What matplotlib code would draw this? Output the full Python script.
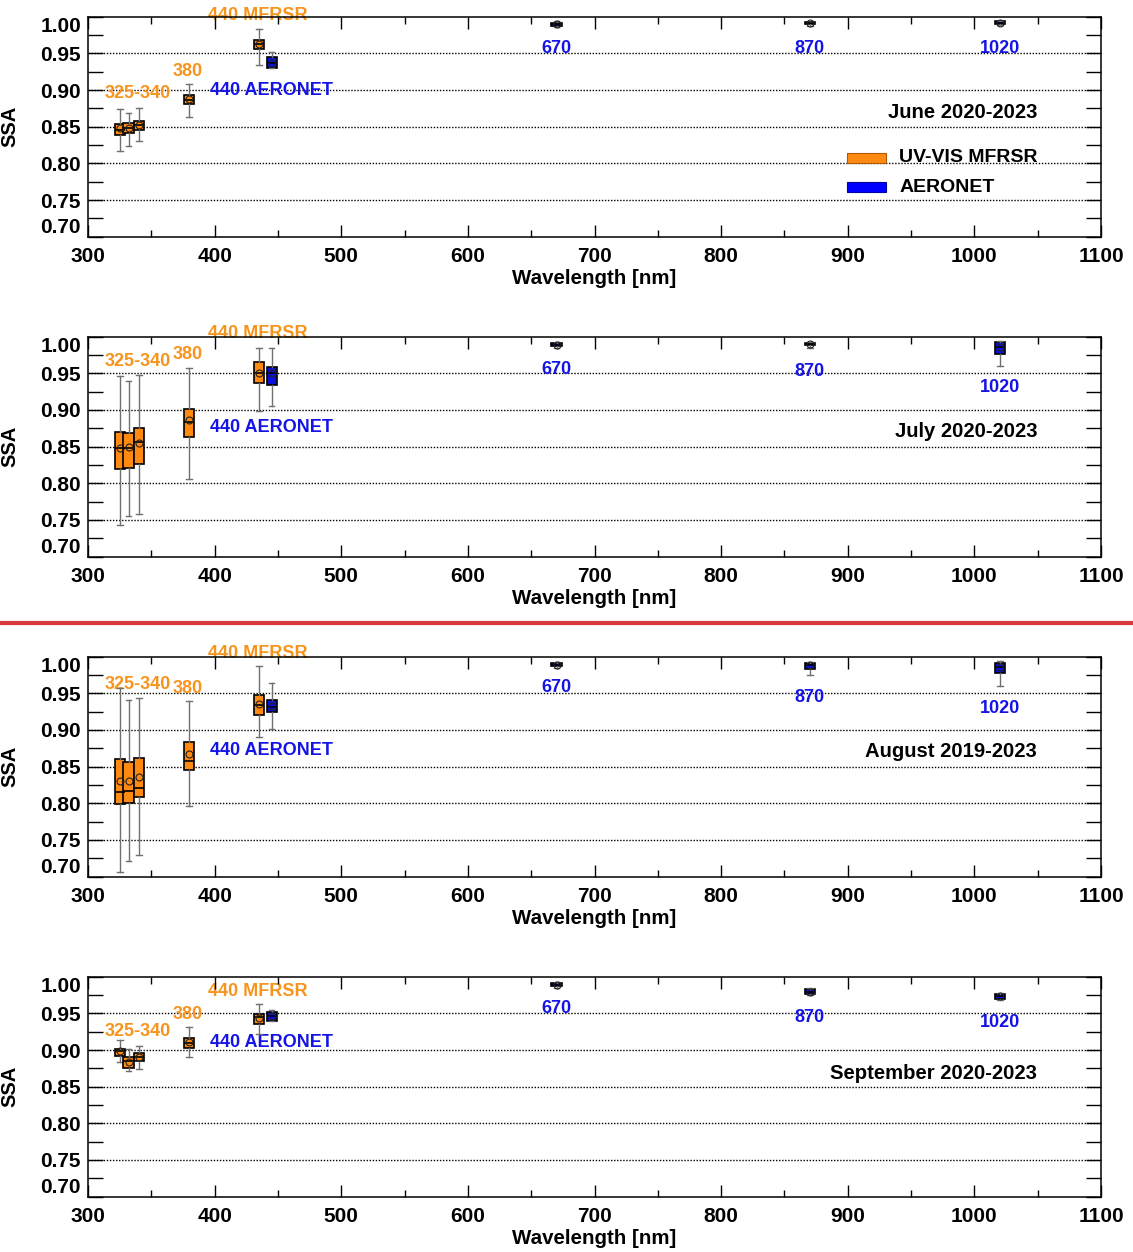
import numpy as np
import matplotlib
matplotlib.use("Agg")
import matplotlib.pyplot as plt
from matplotlib.lines import Line2D
from matplotlib.patches import Rectangle
from matplotlib.ticker import MultipleLocator

plt.rcParams["font.family"] = ["Liberation Sans", "DejaVu Sans"]
plt.rcParams["font.weight"] = "bold"

ORANGE = "#ff8a12"
ORANGE_TXT = "#f7941d"
BLUE = "#0a10d8"
BLUE_TXT = "#1414e6"

mfrsr_wl = [325, 332, 340, 380, 435]
aeronet_wl = [445, 670, 870, 1020]

# rows: whisker low, q1, median, q3, whisker high, mean
june_mfrsr = [
    [0.817, 0.839, 0.845, 0.854, 0.874, 0.848],
    [0.824, 0.841, 0.848, 0.855, 0.869, 0.848],
    [0.830, 0.846, 0.852, 0.858, 0.876, 0.853],
    [0.863, 0.881, 0.887, 0.893, 0.908, 0.888],
    [0.934, 0.956, 0.963, 0.969, 0.984, 0.963],
]
june_aeronet = [
    [0.930, 0.930, 0.937, 0.945, 0.952, 0.937],
    [0.986, 0.988, 0.990, 0.992, 0.994, 0.990],
    [0.988, 0.990, 0.992, 0.993, 0.993, 0.991],
    [0.989, 0.990, 0.992, 0.994, 0.994, 0.991],
]
july_mfrsr = [
    [0.743, 0.819, 0.848, 0.870, 0.946, 0.848],
    [0.755, 0.821, 0.848, 0.868, 0.940, 0.849],
    [0.758, 0.826, 0.857, 0.875, 0.948, 0.855],
    [0.806, 0.863, 0.883, 0.901, 0.957, 0.886],
    [0.899, 0.937, 0.951, 0.965, 0.984, 0.950],
]
july_aeronet = [
    [0.906, 0.934, 0.951, 0.959, 0.984, 0.951],
    [0.985, 0.987, 0.989, 0.991, 0.993, 0.989],
    [0.985, 0.988, 0.990, 0.992, 0.993, 0.990],
    [0.960, 0.977, 0.986, 0.993, 0.994, 0.986],
]
august_mfrsr = [
    [0.707, 0.799, 0.815, 0.861, 0.957, 0.830],
    [0.721, 0.801, 0.817, 0.857, 0.941, 0.831],
    [0.729, 0.808, 0.821, 0.862, 0.944, 0.836],
    [0.796, 0.846, 0.858, 0.884, 0.939, 0.867],
    [0.890, 0.921, 0.934, 0.948, 0.987, 0.936],
]
august_aeronet = [
    [0.902, 0.925, 0.932, 0.941, 0.964, 0.933],
    [0.985, 0.987, 0.989, 0.991, 0.993, 0.989],
    [0.975, 0.983, 0.988, 0.991, 0.993, 0.988],
    [0.960, 0.978, 0.986, 0.991, 0.994, 0.986],
]
september_mfrsr = [
    [0.884, 0.892, 0.899, 0.902, 0.913, 0.898],
    [0.871, 0.876, 0.885, 0.890, 0.901, 0.884],
    [0.874, 0.885, 0.891, 0.896, 0.906, 0.890],
    [0.891, 0.903, 0.910, 0.916, 0.931, 0.911],
    [0.922, 0.936, 0.945, 0.949, 0.963, 0.943],
]
september_aeronet = [
    [0.939, 0.940, 0.946, 0.952, 0.955, 0.946],
    [0.985, 0.987, 0.989, 0.991, 0.993, 0.989],
    [0.975, 0.976, 0.979, 0.983, 0.984, 0.979],
    [0.968, 0.970, 0.974, 0.977, 0.978, 0.974],
]

titles = ["June 2020-2023", "July 2020-2023", "August 2019-2023", "September 2020-2023"]
mfrsr_sets = [june_mfrsr, july_mfrsr, august_mfrsr, september_mfrsr]
aeronet_sets = [june_aeronet, july_aeronet, august_aeronet, september_aeronet]

# label placement per panel (y in SSA units): 325-340, 380, 440 MFRSR, 440 AERONET, 670, 870, 1020
label_y = [
    [0.8955, 0.926, 1.002, 0.899, 0.957, 0.957, 0.957],
    [0.966, 0.976, 1.0037, 0.8764, 0.9546, 0.952, 0.9305],
    [0.962, 0.9569, 1.0037, 0.8727, 0.9573, 0.945, 0.929],
    [0.925, 0.949, 0.9796, 0.910, 0.957, 0.9437, 0.938],
]
title_y = [0.869, 0.870, 0.870, 0.868]


def to_stats(rows):
    return [dict(whislo=r[0], q1=r[1], med=r[2], q3=r[3], whishi=r[4], mean=r[5], fliers=[])
            for r in rows]


def draw_boxes(ax, rows, pos, color):
    ax.bxp(to_stats(rows), positions=pos, widths=8, patch_artist=True, showmeans=True,
           manage_ticks=False, capwidths=4.5,
           boxprops=dict(facecolor=color, edgecolor="black", linewidth=1.2),
           medianprops=dict(color="black", linewidth=1.2),
           whiskerprops=dict(color="#707070", linewidth=1.0),
           capprops=dict(color="#707070", linewidth=1.0),
           meanprops=dict(marker="o", markerfacecolor="none", markeredgecolor="#222222",
                          markersize=5, markeredgewidth=0.8))


fig = plt.figure(figsize=(11.33, 12.52), dpi=100)
bottoms = [0.8109, 0.5554, 0.2998, 0.0442]

for i in range(4):
    ax = fig.add_axes([0.0777, bottoms[i], 0.8941, 0.1757])
    ax.set_xlim(300, 1100)
    ax.set_ylim(0.70, 1.00)

    for y in [0.75, 0.80, 0.85, 0.90, 0.95]:
        ax.axhline(y, color="black", linewidth=1.0, linestyle=(0, (1, 1.2)), zorder=1)

    draw_boxes(ax, mfrsr_sets[i], mfrsr_wl, ORANGE)
    draw_boxes(ax, aeronet_sets[i], aeronet_wl, BLUE)

    ly = label_y[i]
    kw = dict(fontsize=13, fontweight="bold", ha="center", va="center", clip_on=False, zorder=1)
    ax.text(339, ly[0], "325-340", color=ORANGE_TXT, **kw)
    ax.text(379, ly[1], "380", color=ORANGE_TXT, **kw)
    ax.text(434, ly[2], "440 MFRSR", color=ORANGE_TXT, **kw)
    ax.text(444.5, ly[3], "440 AERONET", color=BLUE_TXT, **kw)
    ax.text(670, ly[4], "670", color=BLUE_TXT, **kw)
    ax.text(870, ly[5], "870", color=BLUE_TXT, **kw)
    ax.text(1020.4, ly[6], "1020", color=BLUE_TXT, **kw)

    ax.text(1049.6, title_y[i], titles[i], fontsize=14.6, fontweight="bold", ha="right", va="center")

    ax.xaxis.set_major_locator(MultipleLocator(100))
    ax.xaxis.set_minor_locator(MultipleLocator(50))
    ax.set_yticks(np.arange(0.70, 1.001, 0.05))
    ax.yaxis.set_minor_locator(MultipleLocator(0.025))
    ax.set_yticklabels(["%.2f" % v for v in np.arange(0.70, 1.001, 0.05)])
    ax.tick_params(axis="both", which="both", direction="in", top=True, right=True,
                   labelsize=15, width=1.0, color="black")
    ax.tick_params(axis="x", which="major", length=8.5, pad=7.5)
    ax.tick_params(axis="x", which="minor", length=5)
    ax.tick_params(axis="y", which="both", length=11, pad=5)
    for lab in ax.get_xticklabels() + ax.get_yticklabels():
        lab.set_fontweight("bold")
    ylabs = ax.get_yticklabels()
    ylabs[0].set_va("bottom")
    ylabs[-1].set_va("top")

    for sp in ax.spines.values():
        sp.set_linewidth(1.1)

    ax.set_xlabel("Wavelength [nm]", fontsize=14.8, fontweight="bold")
    ax.xaxis.set_label_coords(0.5, -0.145)
    ax.set_ylabel("SSA", fontsize=14.5, fontweight="bold")
    ax.yaxis.set_label_coords(-0.068, 0.5)

    if i == 0:
        ax.add_patch(Rectangle((0.749, 0.335), 0.039, 0.045, transform=ax.transAxes,
                               facecolor=ORANGE, edgecolor="#b05a00", linewidth=0.8, clip_on=False))
        ax.add_patch(Rectangle((0.749, 0.202), 0.039, 0.045, transform=ax.transAxes,
                               facecolor="#0000ff", edgecolor="#0000a0", linewidth=0.8, clip_on=False))
        ax.text(0.8006, 0.362, "UV-VIS MFRSR", transform=ax.transAxes, fontsize=14,
                fontweight="bold", va="center", ha="left")
        ax.text(0.8006, 0.225, "AERONET", transform=ax.transAxes, fontsize=14,
                fontweight="bold", va="center", ha="left")

fig.add_artist(Line2D([0, 1], [0.5024, 0.5024], transform=fig.transFigure,
                      color="#d63a3e", linewidth=3))

fig.savefig("out.png", dpi=100)
plt.close(fig)
